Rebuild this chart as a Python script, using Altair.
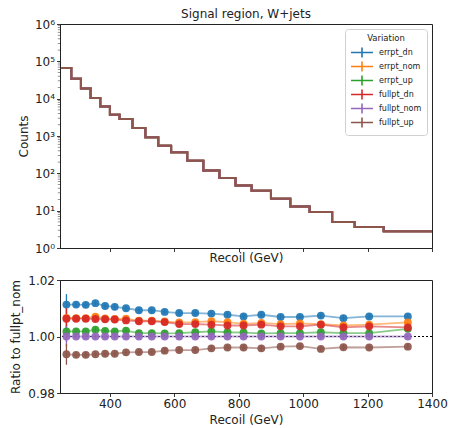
import altair as alt
import pandas as pd

FONT = "DejaVu Sans"
INK = "#222222"

# ---- data ----
edges = [250, 280, 310, 340, 370, 400, 430, 470, 510, 550, 590, 640, 690, 740,
         790, 840, 900, 960, 1020, 1090, 1160, 1250, 1400]
centers = [265, 295, 325, 355, 385, 415, 450, 490, 530, 570, 615, 665, 715, 765,
           815, 870, 930, 990, 1055, 1125, 1205, 1325]
counts = [66000, 34300, 18800, 10400, 6200, 3700, 2860, 1640, 920, 550, 365, 218,
          120, 75, 47.5, 34.3, 20.9, 13.0, 9.2, 5.0, 3.65, 2.8]

variations = ["errpt_dn", "errpt_nom", "errpt_up", "fullpt_dn", "fullpt_nom", "fullpt_up"]
colors = ["#1f77b4", "#ff7f0e", "#2ca02c", "#d62728", "#9467bd", "#8c564b"]

ratio_errpt_dn = [1.0113, 1.0113, 1.0112, 1.0118, 1.0108, 1.0105, 1.0100, 1.0093, 1.0093,
                  1.0087, 1.0083, 1.0083, 1.0081, 1.0077, 1.0071, 1.0077, 1.0069, 1.0069,
                  1.0074, 1.0065, 1.0071, 1.0071]
ratio_errpt_nom = [1.0066, 1.0065, 1.0065, 1.0070, 1.0064, 1.0062, 1.0063, 1.0056, 1.0056,
                   1.0053, 1.0050, 1.0051, 1.0054, 1.0051, 1.0045, 1.0048, 1.0044, 1.0046,
                   1.0044, 1.0039, 1.0042, 1.0050]
ratio_errpt_up = [1.0018, 1.0018, 1.0018, 1.0024, 1.0020, 1.0018, 1.0021, 1.0012, 1.0012,
                  1.0011, 1.0012, 1.0015, 1.0018, 1.0015, 1.0014, 1.0011, 1.0012, 1.0012,
                  1.0015, 1.0012, 1.0012, 1.0027]
ratio_fullpt_dn = [1.0063, 1.0063, 1.0063, 1.0062, 1.0061, 1.0060, 1.0057, 1.0054, 1.0054,
                   1.0051, 1.0044, 1.0044, 1.0042, 1.0039, 1.0039, 1.0042, 1.0036, 1.0036,
                   1.0042, 1.0032, 1.0036, 1.0032]
ratio_fullpt_nom = [1.0, 1.0, 1.0, 1.0, 1.0, 1.0, 1.0, 1.0, 1.0, 1.0, 1.0, 1.0, 1.0, 1.0,
                    1.0, 1.0, 1.0, 1.0, 1.0, 1.0, 1.0, 1.0]
ratio_fullpt_up = [0.9937, 0.9935, 0.9935, 0.9937, 0.9939, 0.9939, 0.9944, 0.9945, 0.9945,
                   0.9950, 0.9952, 0.9952, 0.9958, 0.9961, 0.9961, 0.9958, 0.9964, 0.9966,
                   0.9956, 0.9962, 0.9961, 0.9964]
ratio_err = [0.0037, 0.0010, 0.0010, 0.0010, 0.0010, 0.0010, 0.0010, 0.0010, 0.0010,
             0.0010, 0.0010, 0.0010, 0.0010, 0.0010, 0.0010, 0.0010, 0.0010, 0.0010,
             0.0010, 0.0010, 0.0010, 0.0010]

ratios = [ratio_errpt_dn, ratio_errpt_nom, ratio_errpt_up,
          ratio_fullpt_dn, ratio_fullpt_nom, ratio_fullpt_up]

y_major = [1, 10, 100, 1000, 10000, 100000, 1000000]
y_minor = [m * d for d in [1, 10, 100, 1000, 10000, 100000] for m in range(2, 10)]
x_ticks = [400, 600, 800, 1000, 1200, 1400]
ratio_ticks = [0.98, 1.00, 1.02]

# ---- tables ----
step_rows = []
for v in variations:
    for e, c in zip(edges, counts + [counts[-1]]):
        step_rows.append({"Recoil": e, "Counts": c, "Variation": v})
df_step = pd.DataFrame(step_rows)

ratio_rows = []
for v, r in zip(variations, ratios):
    for c, val, err in zip(centers, r, ratio_err):
        ratio_rows.append({"Recoil": c, "Ratio": val, "lo": val - err, "hi": val + err,
                           "Variation": v})
df_ratio = pd.DataFrame(ratio_rows)
df_minor = pd.DataFrame({"m": y_minor})
df_one = pd.DataFrame({"y": [1.0]})

XDOM = [245, 1400]
W, H1, H2 = 372, 224, 113

legend = alt.Legend(
    title="Variation", orient="top-right", offset=5,
    symbolType="M-1,0L1,0M0,-0.45L0,0.45", symbolSize=480, symbolStrokeWidth=1.6,
    symbolFillColor="transparent", clipHeight=14, rowPadding=0,
    labelFontSize=8, titleFontSize=8.5, titleFontWeight="normal", titleAnchor="middle",
    labelFont=FONT, titleFont=FONT, labelColor=INK, titleColor=INK,
    fillColor="white", strokeColor="#d0d0d0", padding=5, cornerRadius=3,
    labelOffset=5, titlePadding=3,
)

color_top = alt.Color("Variation:N", scale=alt.Scale(domain=variations, range=colors),
                      legend=legend)
color_bot = alt.Color("Variation:N", scale=alt.Scale(domain=variations, range=colors),
                      legend=None)

x_top = alt.X("Recoil:Q", scale=alt.Scale(domain=XDOM, nice=False, zero=False),
              axis=alt.Axis(values=x_ticks, labels=False, title="Recoil (GeV)",
                            titlePadding=1))

step = alt.Chart(df_step).mark_line(interpolate="step-after", strokeWidth=2).encode(
    x=x_top,
    y=alt.Y("Counts:Q", scale=alt.Scale(type="log", domain=[1, 1e6], nice=False),
            axis=alt.Axis(values=y_major, title="Counts", titlePadding=4,
                          labelExpr="'10' + ['⁰','¹','²','³','⁴','⁵','⁶'][round(log(datum.value)/LN10)]")),
    color=color_top,
    order=alt.Order("Variation:N"),
)

minor = alt.Chart(df_minor).mark_tick(orient="horizontal", size=2.2, thickness=0.7,
                                      color=INK).encode(
    y=alt.Y("m:Q"),
    x=alt.value(-1.1),
)

top = alt.layer(step, minor).properties(
    width=W, height=H1,
    title=alt.TitleParams("Signal region, W+jets", fontSize=12, fontWeight="normal",
                          anchor="middle", offset=-3, font=FONT, color=INK),
)

x_bot = alt.X("Recoil:Q", scale=alt.Scale(domain=XDOM, nice=False, zero=False),
              axis=alt.Axis(values=x_ticks, format="d", title="Recoil (GeV)",
                            labelPadding=2, titlePadding=5, labelFlush=False))
y_bot = alt.Y("Ratio:Q", scale=alt.Scale(domain=[0.98, 1.02], nice=False, zero=False),
              axis=alt.Axis(values=ratio_ticks, format=".2f", title="Ratio to fullpt_nom",
                            titlePadding=5))

dash = alt.Chart(df_one).mark_rule(color="black", strokeDash=[2, 2], strokeWidth=1.2).encode(
    y=alt.Y("y:Q", scale=alt.Scale(domain=[0.98, 1.02], nice=False, zero=False)))

lines = alt.Chart(df_ratio).mark_line(strokeWidth=1.8, opacity=0.55).encode(
    x=x_bot, y=y_bot, color=color_bot)

errs = alt.Chart(df_ratio).mark_rule(strokeWidth=1.3).encode(
    x=x_bot, y=alt.Y("lo:Q"), y2="hi:Q", color=color_bot)

pts = alt.Chart(df_ratio).mark_circle(size=62, opacity=0.92).encode(
    x=x_bot, y=y_bot, color=color_bot)

bottom = alt.layer(dash, lines, errs, pts).properties(width=W, height=H2)

chart = alt.VConcatChart(vconcat=[top, bottom], spacing=32, bounds="flush").resolve_scale(
    color="independent"
).properties(
    padding={"left": 9, "top": 7, "right": 4, "bottom": 0},
    background="white",
).configure_view(
    stroke=INK, strokeWidth=1
).configure_axis(
    labelFont=FONT, titleFont=FONT, labelFontSize=12, titleFontSize=12,
    titleFontWeight="normal", labelColor=INK, titleColor=INK, domainColor=INK,
    tickColor=INK, tickSize=3.5, tickWidth=0.9, domainWidth=1, grid=False,
)

chart.save("out.html", embed_options={"renderer": "svg", "actions": False})
